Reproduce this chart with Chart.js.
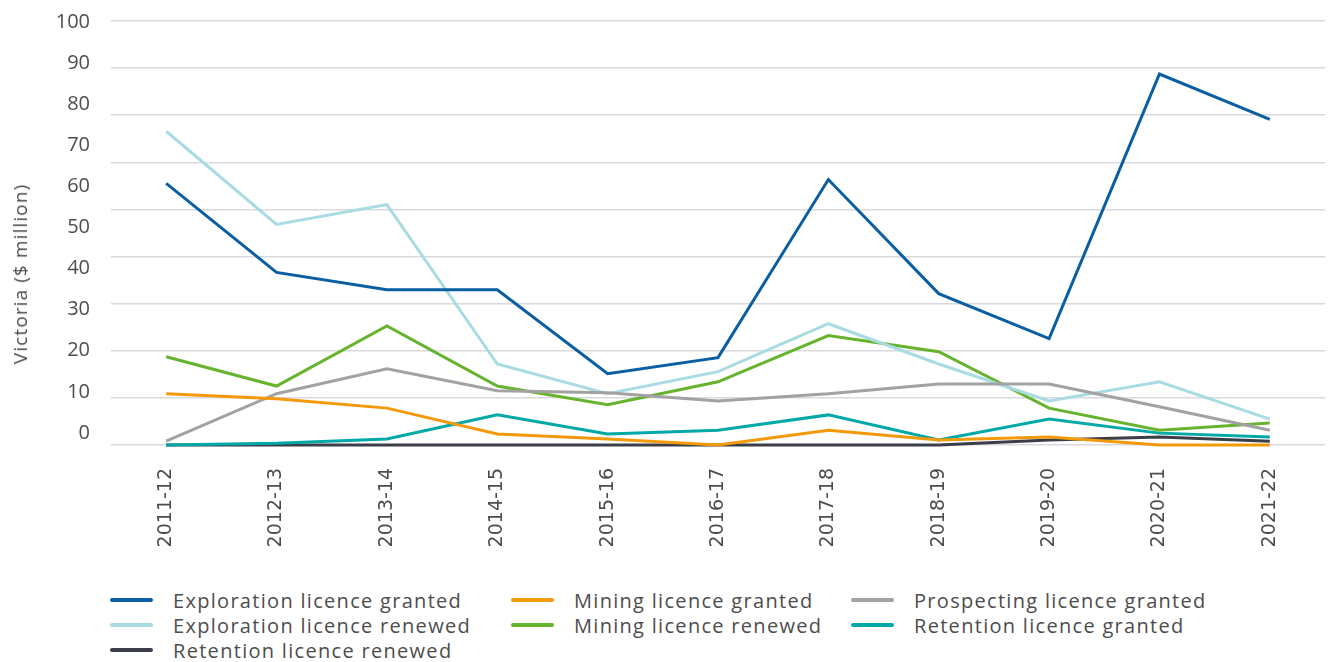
<!DOCTYPE html>
<html>
<head>
<meta charset="utf-8">
<script src="https://cdn.jsdelivr.net/npm/chart.js@4.4.1/dist/chart.umd.min.js"></script>
<style>
  html, body { margin: 0; padding: 0; background: #fff; }
  body { width: 1332px; height: 662px; position: relative; overflow: hidden; font-family: "Open Sans", sans-serif; color: #4d4d4d; }
  #wrap { position: absolute; left: 0; top: 0; width: 1332px; height: 561px; }
  #ytitle { position: absolute; left: 20px; top: 274px; transform: translate(-50%, -50%) rotate(-90deg); white-space: nowrap; font-size: 19px; letter-spacing: 1.1px; color: #4d4d4d; }
  #legend { position: absolute; left: 110px; top: 589px; display: grid; grid-template-columns: 401px 340px 340px; row-gap: 3px; }
  .item { display: flex; align-items: center; height: 22px; font-size: 20px; letter-spacing: 1.3px; white-space: nowrap; }
  .swatch { width: 43px; height: 4px; border-radius: 2px; margin-right: 20px; flex: none; }
</style>
</head>
<body>
<div id="wrap"><canvas id="grafico"></canvas></div>
<div id="ytitle">Victoria ($ million)</div>
<div id="legend"></div>
<script>
const years = ['2011-12', '2012-13', '2013-14', '2014-15', '2015-16', '2016-17', '2017-18', '2018-19', '2019-20', '2020-21', '2021-22'];
const yTickLabels = [0, 10, 20, 30, 40, 50, 60, 70, 80, 90, 100];

const explorationGranted = [61.7, 40.7, 36.6, 36.6, 16.8, 20.6, 62.6, 35.7, 25.1, 87.5, 76.8];
const explorationRenewed = [74.0, 52.0, 56.7, 19.1, 12.1, 17.3, 28.6, 19.1, 10.4, 14.9, 6.1];
const miningGranted = [12.1, 10.9, 8.7, 2.6, 1.4, 0, 3.5, 1.2, 1.9, 0, 0];
const miningRenewed = [20.8, 13.9, 28.1, 13.9, 9.5, 14.9, 25.8, 22.0, 8.7, 3.5, 5.2];
const prospectingGranted = [0.9, 12.1, 18.0, 12.8, 12.3, 10.4, 12.1, 14.4, 14.4, 9.0, 3.5];
const retentionGranted = [0, 0.4, 1.4, 7.1, 2.6, 3.5, 7.1, 1.2, 6.1, 2.8, 1.9];
const retentionRenewed = [0, 0, 0, 0, 0, 0, 0, 0, 1.2, 1.9, 0.9];

const series = [
    { label: 'Exploration licence granted', data: explorationGranted, color: '#0a5ea2' },
    { label: 'Mining licence granted', data: miningGranted, color: '#f39a0a' },
    { label: 'Prospecting licence granted', data: prospectingGranted, color: '#a2a2a2' },
    { label: 'Exploration licence renewed', data: explorationRenewed, color: '#a9dbe3' },
    { label: 'Mining licence renewed', data: miningRenewed, color: '#66b32e' },
    { label: 'Retention licence granted', data: retentionGranted, color: '#00a8a8' },
    { label: 'Retention licence renewed', data: retentionRenewed, color: '#3b3e49' }
];

document.addEventListener('DOMContentLoaded', function(){
    const ctx = document.getElementById('grafico').getContext('2d');
    new Chart(ctx, {
        type: 'line',
        data: {
            labels: years,
            datasets: series.map(s => ({
                label: s.label,
                data: s.data,
                borderColor: s.color,
                backgroundColor: s.color,
                borderWidth: 3,
                pointRadius: 0,
                tension: 0,
                clip: false,
                yAxisID: 'y'
            }))
        },
        options: {
            responsive: true,
            maintainAspectRatio: false,
            animation: false,
            layout: { padding: { top: 21, right: 7, left: 0, bottom: 0 } },
            plugins: { legend: { display: false }, tooltip: { enabled: false } },
            scales: {
                x: {
                    offset: true,
                    grid: { display: false },
                    border: { display: false },
                    ticks: {
                        minRotation: 90,
                        maxRotation: 90,
                        padding: 15,
                        color: '#4d4d4d',
                        font: { family: '"DejaVu Sans", sans-serif', size: 19 }
                    },
                    afterFit: scale => { scale.height = 116; }
                },
                y: {
                    min: 0,
                    max: 100,
                    position: 'left',
                    border: { display: false },
                    grid: { color: '#d9d9de', lineWidth: 1.5, drawTicks: false },
                    ticks: { display: false },
                    afterBuildTicks: axis => {
                        axis.ticks = Array.from({ length: 10 }, (_, i) => ({ value: i * 100 / 9 }));
                    },
                    afterFit: scale => { scale.width = 0; }
                },
                y2: {
                    min: -2.93,
                    max: 100.24,
                    position: 'left',
                    border: { display: false },
                    grid: { display: false },
                    ticks: {
                        color: '#4d4d4d',
                        padding: 13,
                        font: { family: '"Open Sans", sans-serif', size: 20 }
                    },
                    afterBuildTicks: axis => {
                        axis.ticks = yTickLabels.map(v => ({ value: v }));
                    },
                    afterFit: scale => {
                        scale.width = 111;
                        scale.paddingTop = 0;
                        scale.paddingBottom = 0;
                    }
                }
            }
        }
    });

    const legend = document.getElementById('legend');
    series.forEach(s => {
        const item = document.createElement('div');
        item.className = 'item';
        item.innerHTML = '<span class="swatch" style="background:' + s.color + '"></span><span>' + s.label + '</span>';
        legend.appendChild(item);
    });
});
</script>
</body>
</html>
